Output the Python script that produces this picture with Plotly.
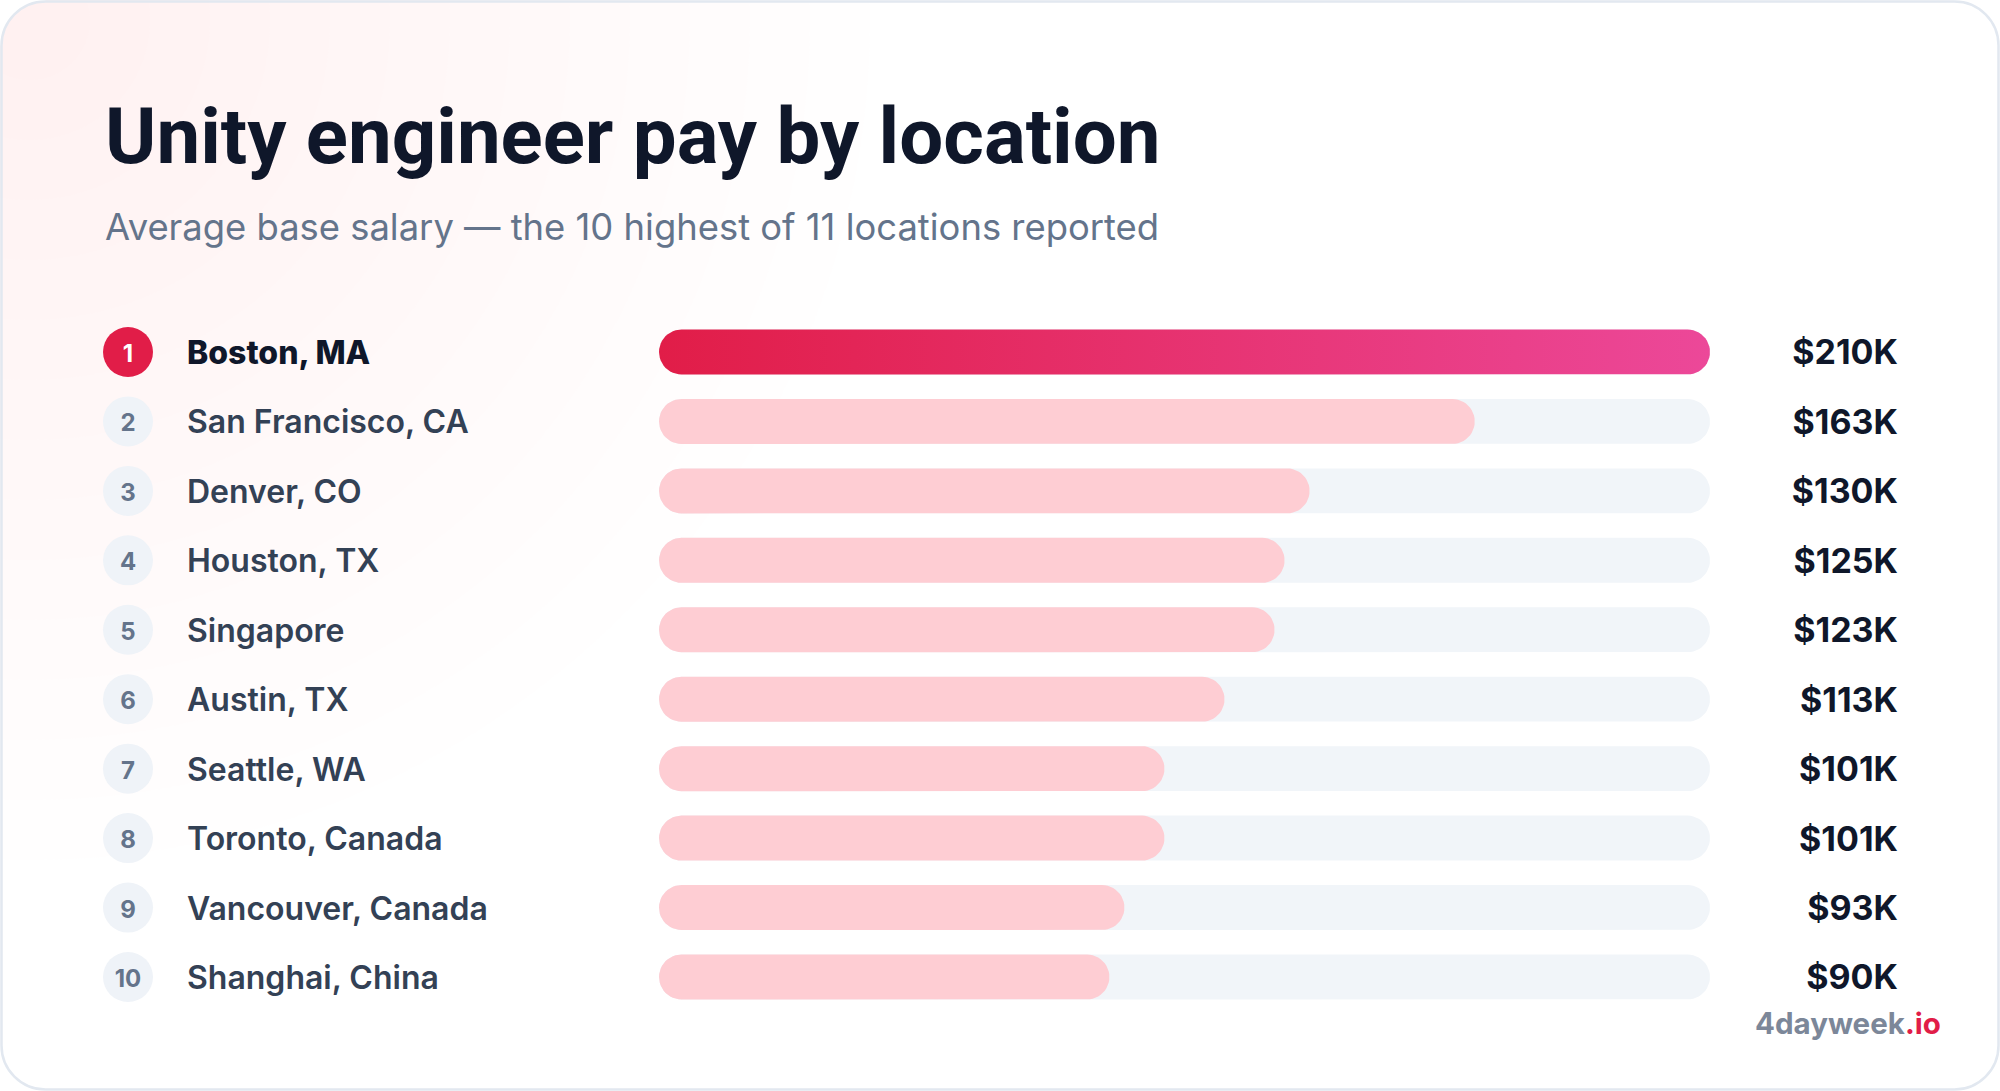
import math
import plotly.graph_objects as go

W, H = 2000, 1091

# chart data
locations = ["Boston, MA", "San Francisco, CA", "Denver, CO", "Houston, TX", "Singapore",
             "Austin, TX", "Seattle, WA", "Toronto, Canada", "Vancouver, Canada", "Shanghai, China"]
salaries_k = [210, 163, 130, 125, 123, 113, 101, 101, 93, 90]
ranks = list(range(1, len(locations) + 1))
value_labels = [f"${v}K" for v in salaries_k]

title = "Unity engineer pay by location"
subtitle = "Average base salary \u2014 the 10 highest of 11 locations reported"

FONT = "Inter"
INK = "#0f172a"
SLATE = "#334155"
MUTED = "#64748b"
ROSE = "#e11d48"
PINK = "#ec4899"
ROSE_LIGHT = "#fecdd3"
TRACK = "#f1f5f9"

# pixel layout of the plotting band
BAR_LEFT, BAR_RIGHT = 659, 1710
ROW_TOP, ROW_BOTTOM = 352, 977
row_gap = (ROW_BOTTOM - ROW_TOP) / (len(ranks) - 1)
BAR_THICK = 0.648  # fraction of a row
TEXT_NUDGE = 4     # px, text baseline sits a touch lower than the bar centre


def px(x):
    return x / W


def py(y):
    return 1 - y / H


max_val = max(salaries_k)

# rounded-end bars drawn in data units on the bar axes
units_per_px = max_val / (BAR_RIGHT - BAR_LEFT)
ry = BAR_THICK / 2
rx = ry * row_gap * units_per_px


def pills(ends, rows):
    xs, ys = [], []
    steps = 24
    for end, row in zip(ends, rows):
        for i in range(steps + 1):
            a = math.pi / 2 + math.pi * i / steps
            xs.append(rx + rx * math.cos(a))
            ys.append(row - ry * math.sin(a))
        for i in range(steps + 1):
            a = -math.pi / 2 + math.pi * i / steps
            xs.append(end - rx + rx * math.cos(a))
            ys.append(row - ry * math.sin(a))
        xs.append(xs[-2 * (steps + 1)])
        ys.append(ys[-2 * (steps + 1)])
        xs.append(None)
        ys.append(None)
    return xs, ys


fig = go.Figure()

# grey tracks
tx, ty = pills([max_val] * len(ranks), ranks)
fig.add_trace(go.Scatter(
    x=tx, y=ty, mode="lines", fill="toself", fillcolor=TRACK, line=dict(width=0),
    hoverinfo="skip", showlegend=False,
))

# value bars
vx, vy = pills(salaries_k[1:], ranks[1:])
fig.add_trace(go.Scatter(
    x=vx, y=vy, mode="lines", fill="toself", fillcolor=ROSE_LIGHT, line=dict(width=0),
    hoverinfo="skip", showlegend=False,
))
lx, ly = pills(salaries_k[:1], ranks[:1])
fig.add_trace(go.Scatter(
    x=lx, y=ly, mode="lines", fill="toself", line=dict(width=0),
    fillgradient=dict(type="horizontal", colorscale=[[0, ROSE], [1, PINK]]),
    hoverinfo="skip", showlegend=False,
))

# rank badges
fig.add_trace(go.Scatter(
    x=[128] * len(ranks), y=ranks, xaxis="x2", mode="markers",
    marker=dict(size=50, color=[ROSE] + ["#eff3f8"] * (len(ranks) - 1), line=dict(width=0)),
    cliponaxis=False, hoverinfo="skip", showlegend=False,
))
fig.add_trace(go.Scatter(
    x=[128] * len(ranks), y=ranks, xaxis="x2", yaxis="y2", mode="text",
    text=[str(r) for r in ranks], textposition="middle center",
    textfont=dict(family=FONT, size=24, weight=700,
                  color=["#ffffff"] + [MUTED] * (len(ranks) - 1)),
    cliponaxis=False, hoverinfo="skip", showlegend=False,
))

# location names
fig.add_trace(go.Scatter(
    x=[187], y=ranks[:1], xaxis="x2", yaxis="y2", mode="text",
    text=locations[:1], textposition="middle right",
    textfont=dict(family=FONT, size=32, weight=800, color=INK),
    cliponaxis=False, hoverinfo="skip", showlegend=False,
))
fig.add_trace(go.Scatter(
    x=[187] * (len(ranks) - 1), y=ranks[1:], xaxis="x2", yaxis="y2", mode="text",
    text=locations[1:], textposition="middle right",
    textfont=dict(family=FONT, size=32, weight=600, color=SLATE),
    cliponaxis=False, hoverinfo="skip", showlegend=False,
))

# value labels
fig.add_trace(go.Scatter(
    x=[1898] * len(ranks), y=ranks, xaxis="x2", yaxis="y2", mode="text",
    text=value_labels, textposition="middle left",
    textfont=dict(family=FONT, size=34, weight=700, color=INK),
    customdata=locations, hovertemplate="%{customdata}: %{text}<extra></extra>",
    cliponaxis=False, showlegend=False,
))

# soft pink glow in the top-left corner
shapes = []
cx, cy = 30, 20
for r in range(60, 900, 60):
    shapes.append(dict(
        type="circle", xref="paper", yref="paper", layer="below",
        x0=px(cx - r), x1=px(cx + r), y0=py(cy + r), y1=py(cy - r),
        fillcolor="rgba(254,205,211,0.022)", line=dict(width=0),
    ))

# mask the glow outside the rounded corner, then the card border
R = 44
k = 0.5523
x0, y0, x1, y1 = 1.5, 1.5, W - 1.5, H - 1.5


def pt(x, y):
    return f"{px(x)},{py(y)}"


mask = (f"M {pt(-2, -2)} L {pt(x0 + R, -2)} L {pt(x0 + R, y0)} "
        f"C {pt(x0 + R * (1 - k), y0)} {pt(x0, y0 + R * (1 - k))} {pt(x0, y0 + R)} "
        f"L {pt(-2, y0 + R)} Z")
shapes.append(dict(type="path", xref="paper", yref="paper", layer="below",
                   path=mask, fillcolor="#ffffff", line=dict(width=0)))

card = (f"M {pt(x0 + R, y0)} L {pt(x1 - R, y0)} "
        f"C {pt(x1 - R * (1 - k), y0)} {pt(x1, y0 + R * (1 - k))} {pt(x1, y0 + R)} "
        f"L {pt(x1, y1 - R)} "
        f"C {pt(x1, y1 - R * (1 - k))} {pt(x1 - R * (1 - k), y1)} {pt(x1 - R, y1)} "
        f"L {pt(x0 + R, y1)} "
        f"C {pt(x0 + R * (1 - k), y1)} {pt(x0, y1 - R * (1 - k))} {pt(x0, y1 - R)} "
        f"L {pt(x0, y0 + R)} "
        f"C {pt(x0, y0 + R * (1 - k))} {pt(x0 + R * (1 - k), y0)} {pt(x0 + R, y0)} Z")
shapes.append(dict(type="path", xref="paper", yref="paper", layer="below",
                   path=card, line=dict(color="#e2e8f0", width=2.5)))

annotations = [
    dict(text=title, x=px(103), y=py(136), xref="paper", yref="paper",
         xanchor="left", yanchor="middle", showarrow=False,
         font=dict(family="Roboto", size=78, weight=700, color=INK)),
    dict(text=subtitle, x=px(103), y=py(227), xref="paper", yref="paper",
         xanchor="left", yanchor="middle", showarrow=False,
         font=dict(family=FONT, size=36.4, weight=400, color=MUTED)),
    dict(text="4dayweek<span style='color:#e11d48'>.io</span>",
         x=px(1943), y=py(1023), xref="paper", yref="paper",
         xanchor="right", yanchor="middle", showarrow=False,
         font=dict(family=FONT, size=29.5, weight=700, color="#7c8799")),
]

half = row_gap / 2
fig.update_layout(
    width=W, height=H,
    margin=dict(l=0, r=0, t=0, b=0),
    paper_bgcolor="#ffffff", plot_bgcolor="rgba(0,0,0,0)",
    xaxis=dict(domain=[px(BAR_LEFT), px(BAR_RIGHT)], range=[0, max_val],
               visible=False, fixedrange=True),
    xaxis2=dict(domain=[0, 1], range=[0, W], anchor="y", visible=False, fixedrange=True),
    yaxis=dict(domain=[py(ROW_BOTTOM + half), py(ROW_TOP - half)],
               range=[len(ranks) + 0.5, 0.5], visible=False, fixedrange=True),
    yaxis2=dict(domain=[py(ROW_BOTTOM + half + TEXT_NUDGE), py(ROW_TOP - half + TEXT_NUDGE)],
                range=[len(ranks) + 0.5, 0.5], anchor="x2", visible=False, fixedrange=True),
    shapes=shapes,
    annotations=annotations,
    showlegend=False,
)

fig.write_html("out.html", config={"displayModeBar": False},
               post_script="document.body.style.margin='0';")
